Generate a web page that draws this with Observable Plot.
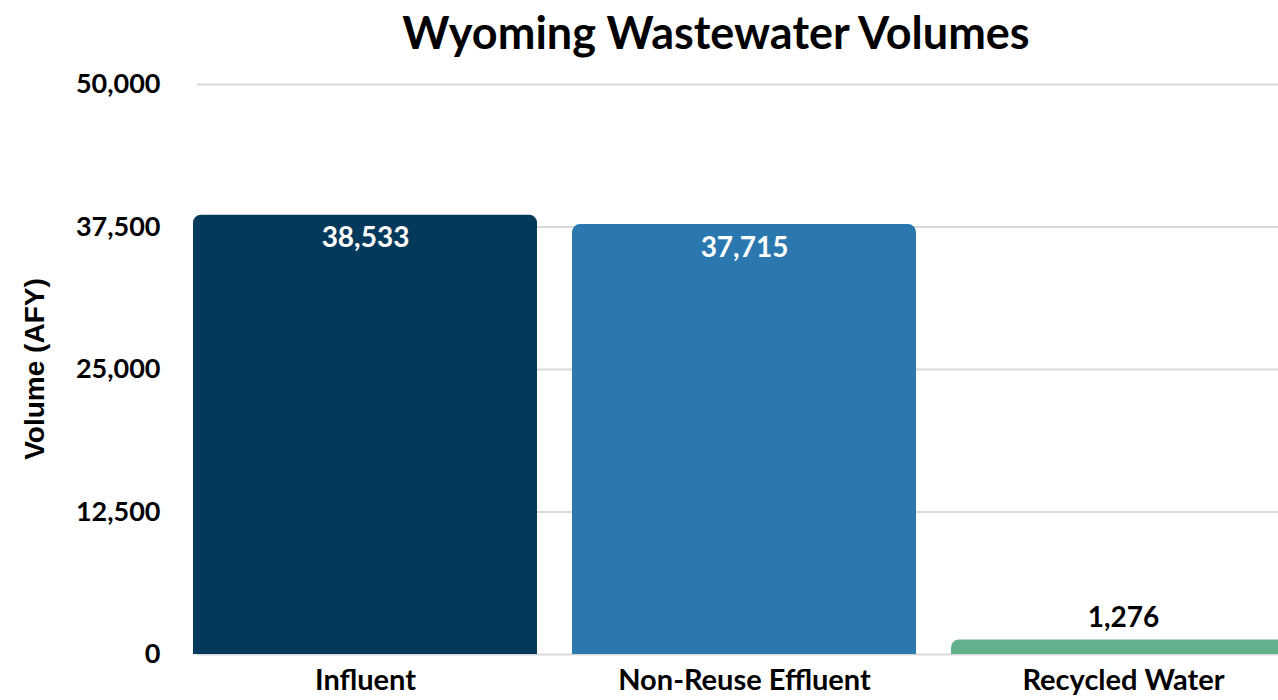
<!DOCTYPE html>
<html>
<head>
<meta charset="utf-8">
<script src="https://cdn.jsdelivr.net/npm/d3@7"></script>
<script src="https://cdn.jsdelivr.net/npm/@observablehq/plot@0.6"></script>
<style>
  html, body { margin: 0; padding: 0; background: #fff; overflow: hidden; width: 1278px; height: 700px; }
  #wrap { position: relative; width: 1278px; height: 700px; overflow: hidden; }
  #title { position: absolute; top: 5px; left: 716px; transform: translateX(-50%); white-space: nowrap; line-height: 1.2;
           font-family: Lato, sans-serif; font-weight: 700; font-size: 45px; color: #000; }
  #ylabel { position: absolute; left: 35px; top: 369px; transform: translate(-50%, -50%) rotate(-90deg); white-space: nowrap;
            font-family: "Liberation Sans", Arial, sans-serif; font-weight: 700; font-size: 28px; color: #000; }
  #chart { position: absolute; left: 0; top: 0; width: 1330px; }
  #chart svg { max-width: none !important; width: 1330px; height: 700px; }
</style>
</head>
<body>
<div id="wrap">
  <div id="chart"></div>
  <div id="title">Wyoming Wastewater Volumes</div>
  <div id="ylabel">Volume (AFY)</div>
</div>
<script>
const categories = ["Influent", "Non-Reuse Effluent", "Recycled Water"];
const volumes = [38533, 37715, 1276];
const barColors = ["#033a5b", "#2b77b0", "#63b18c"];
const yTicks = [0, 12500, 25000, 37500, 50000];

const data = categories.map((c, i) => ({category: c, value: volumes[i], color: barColors[i]}));
const fmt = d3.format(",");

const chart = Plot.plot({
  width: 1330,
  height: 700,
  marginTop: 84,
  marginBottom: 46,
  marginLeft: 197,
  marginRight: 52,
  style: {fontFamily: "Lato, sans-serif", fontWeight: 700, fontSize: "27px", color: "#000", background: "#fff", maxWidth: "none"},
  x: {domain: categories, range: [175.6, 1312.6], paddingInner: 0.092, paddingOuter: 0.046, label: null},
  y: {domain: [0, 50000], label: null},
  marks: [
    Plot.gridY(yTicks, {stroke: "#d9d9d9", strokeOpacity: 1, strokeWidth: 2}),
    Plot.barY(data, {x: "category", y: "value", fill: "color", ry1: 8}),
    Plot.axisY(yTicks, {tickSize: 0, tickPadding: 37, tickFormat: fmt, fontSize: 27, fontWeight: 700, label: null}),
    Plot.axisX({tickSize: 0, tickPadding: 15, fontSize: 29, fontWeight: 700, label: null}),
    Plot.text(data.filter(d => d.value > 5000), {x: "category", y: "value", text: d => fmt(d.value), dy: 23, fill: "#fff", fontSize: 28, fontWeight: 700}),
    Plot.text(data.filter(d => d.value <= 5000), {x: "category", y: "value", text: d => fmt(d.value), dy: -22, fill: "#000", fontSize: 28, fontWeight: 700})
  ]
});
document.getElementById("chart").appendChild(chart);
</script>
</body>
</html>
